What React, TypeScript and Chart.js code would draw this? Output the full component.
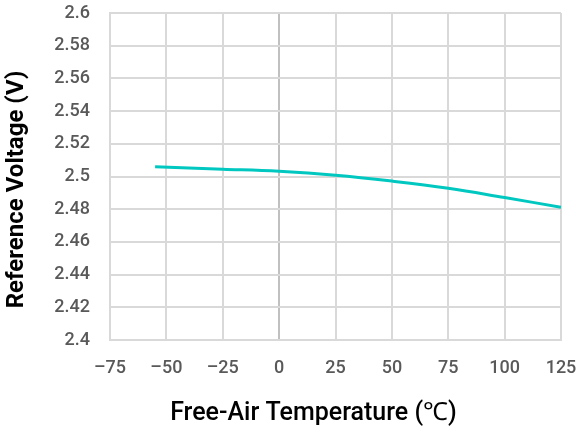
import React, { useEffect, useRef } from "react";
import { Chart, registerables } from "chart.js";

Chart.register(...registerables);

// Free-air temperature (°C) and reference voltage (V)
const temperatures = [-55, -25, 0, 25, 50, 75, 100, 125];
const voltages = [2.5059, 2.5045, 2.5032, 2.5008, 2.4972, 2.4928, 2.4871, 2.4812];

const xTicks = [-75, -50, -25, 0, 25, 50, 75, 100, 125];
const yMin = 2.4;
const yMax = 2.6;
const yStep = 0.02;

const xTitle = "Free-Air Temperature (\u2103)";
const yTitle = "Reference Voltage (V)";

// Axis titles drawn on the canvas after the chart itself
const axisTitles = {
  id: "axisTitles",
  afterDraw(chart: any) {
    const { ctx, chartArea } = chart;
    ctx.save();
    ctx.fillStyle = "#000000";
    ctx.textAlign = "center";
    ctx.textBaseline = "middle";

    ctx.font = "500 25px Roboto";
    ctx.fillText(xTitle, (chartArea.left + chartArea.right) / 2 - 22, 414);

    ctx.translate(17, (chartArea.top + chartArea.bottom) / 2 + 13);
    ctx.rotate(-Math.PI / 2);
    ctx.font = "bold 24px Roboto";
    ctx.fillText(yTitle, 0, 0);
    ctx.restore();
  },
};

export default function App() {
  const canvasRef = useRef<HTMLCanvasElement | null>(null);

  useEffect(() => {
    document.body.style.margin = "0";
    const canvas = canvasRef.current;
    if (!canvas) return;
    const chart = new Chart(canvas, {
      type: "line",
      data: {
        datasets: [
          {
            data: temperatures.map((t, i) => ({ x: t, y: voltages[i] })),
            borderColor: "#00C8C0",
            borderWidth: 3,
            pointRadius: 0,
            fill: false,
            tension: 0.4,
          },
        ],
      },
      options: {
        animation: false,
        responsive: false,
        maintainAspectRatio: false,
        layout: { padding: { top: 13, right: 15, left: 0, bottom: 0 } },
        plugins: { legend: { display: false }, tooltip: { enabled: false } },
        scales: {
          x: {
            type: "linear",
            min: xTicks[0],
            max: xTicks[xTicks.length - 1],
            afterBuildTicks: (axis: any) => {
              axis.ticks = xTicks.map((v) => ({ value: v }));
            },
            afterFit: (axis: any) => {
              axis.height = 94;
              axis.paddingLeft = 0;
              axis.paddingRight = 0;
            },
            grid: {
              color: (ctx: any) => (ctx.tick && ctx.tick.value === 0 ? "#c0c0c0" : "#d9d9d9"),
              lineWidth: 2,
              drawTicks: false,
            },
            border: { color: "#d9d9d9", width: 2 },
            ticks: {
              color: "#595959",
              font: { family: "Roboto", size: 18, weight: "500" },
              padding: 18,
              maxRotation: 0,
              callback: (v: any) => (Number(v) < 0 ? "\u2013" + Math.abs(Number(v)) : String(v)),
            },
            title: { display: false },
          },
          y: {
            type: "linear",
            min: yMin,
            max: yMax,
            afterFit: (axis: any) => {
              axis.width = 110;
              axis.paddingTop = 0;
              axis.paddingBottom = 0;
            },
            ticks: {
              stepSize: yStep,
              color: "#595959",
              font: { family: "Roboto", size: 18, weight: "500" },
              padding: 20,
              callback: (v: any) => String(parseFloat(Number(v).toFixed(2))),
            },
            grid: { color: "#d9d9d9", lineWidth: 2, drawTicks: false },
            border: { color: "#d9d9d9", width: 2 },
            title: { display: false },
          },
        },
      },
      plugins: [axisTitles],
    });
    return () => chart.destroy();
  }, []);

  return (
    <div style={{ position: "absolute", left: 0, top: 0, width: 576, height: 434 }}>
      <canvas ref={canvasRef} width={576} height={434} style={{ width: 576, height: 434 }} />
    </div>
  );
}
